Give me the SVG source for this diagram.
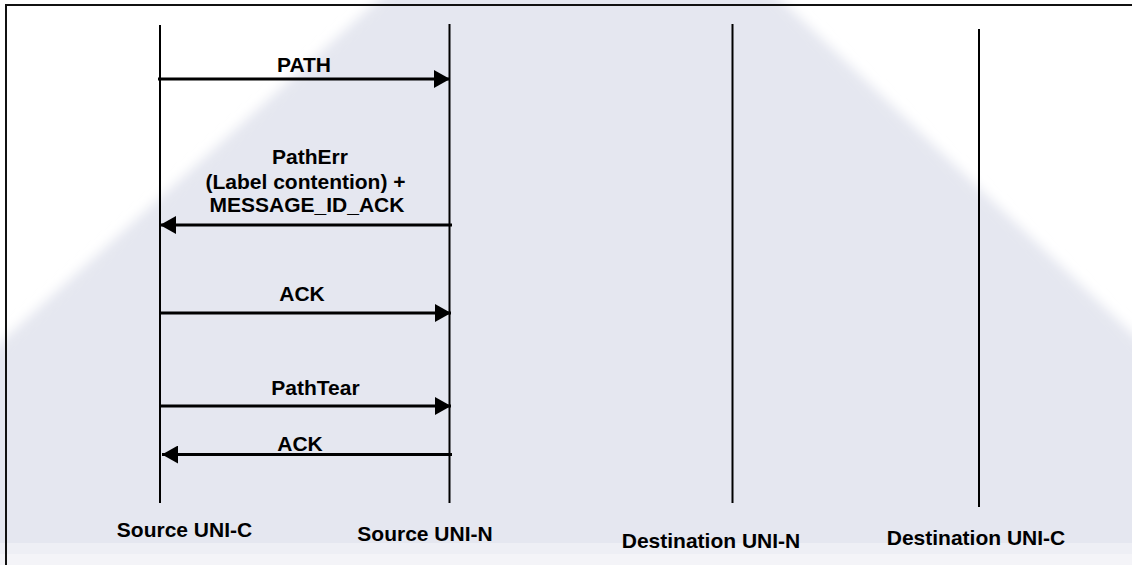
<svg xmlns="http://www.w3.org/2000/svg" width="1132" height="565" viewBox="0 0 1132 565">
  <style>
    .lbl { font-family: "Liberation Sans", Arial, sans-serif; font-weight: bold; font-size: 21px; fill: #000; text-anchor: middle; }
    .life { stroke: #000; stroke-width: 2; fill: none; }
    .msg { stroke: #000; stroke-width: 3; fill: none; marker-end: url(#arrow); }
  </style>
  <defs>
    <marker id="arrow" markerUnits="userSpaceOnUse" viewBox="0 0 16 18" refX="16" refY="9" markerWidth="16" markerHeight="18" orient="auto">
      <path d="M0,0 L16,9 L0,18 Z" fill="#000"/>
    </marker>
    <filter id="soft" x="-10%" y="-10%" width="120%" height="120%">
      <feGaussianBlur stdDeviation="6"/>
    </filter>
  </defs>

  <!-- background -->
  <rect x="0" y="0" width="1132" height="565" fill="#ffffff"/>
  <polygon points="400,-20 760,-20 1160,360 1160,600 -30,600 -30,370" fill="#e5e7f0" filter="url(#soft)"/>
  <rect x="0" y="543" width="1132" height="11" fill="#eeeff5"/>
  <rect x="0" y="554" width="1132" height="11" fill="#f4f4f8"/>

  <!-- frame -->
  <g id="frame">
    <line x1="5" y1="5" x2="1132" y2="5" stroke="#111" stroke-width="2"/>
    <line x1="6" y1="4" x2="6" y2="565" stroke="#111" stroke-width="2"/>
  </g>

  <!-- nodes (lifelines) -->
  <g id="source-uni-c">
    <line class="life" x1="160" y1="25" x2="160" y2="503"/>
    <text class="lbl" x="184.5" y="537">Source UNI-C</text>
  </g>
  <g id="source-uni-n">
    <line class="life" x1="449.5" y1="24" x2="449.5" y2="503"/>
    <text class="lbl" x="425" y="541">Source UNI-N</text>
  </g>
  <g id="destination-uni-n">
    <line class="life" x1="732.5" y1="24" x2="732.5" y2="503"/>
    <text class="lbl" x="711" y="548">Destination UNI-N</text>
  </g>
  <g id="destination-uni-c">
    <line class="life" x1="979" y1="29" x2="979" y2="507"/>
    <text class="lbl" x="976" y="545">Destination UNI-C</text>
  </g>

  <!-- connectors -->
  <g id="connectors">
    <line class="msg" x1="158" y1="79" x2="450" y2="79"/>
    <text class="lbl" x="304" y="72">PATH</text>

    <line class="msg" x1="452" y1="225" x2="160" y2="225"/>
    <text class="lbl" x="310" y="164">PathErr</text>
    <text class="lbl" x="305.5" y="188.5">(Label contention) +</text>
    <text class="lbl" x="307" y="212">MESSAGE_ID_ACK</text>

    <line class="msg" x1="160" y1="313" x2="451" y2="313"/>
    <text class="lbl" x="302" y="300.5">ACK</text>

    <line class="msg" x1="160" y1="406" x2="451" y2="406"/>
    <text class="lbl" x="315.5" y="395">PathTear</text>

    <line class="msg" x1="452" y1="454.5" x2="162" y2="454.5"/>
    <text class="lbl" x="300" y="451">ACK</text>
  </g>
</svg>
